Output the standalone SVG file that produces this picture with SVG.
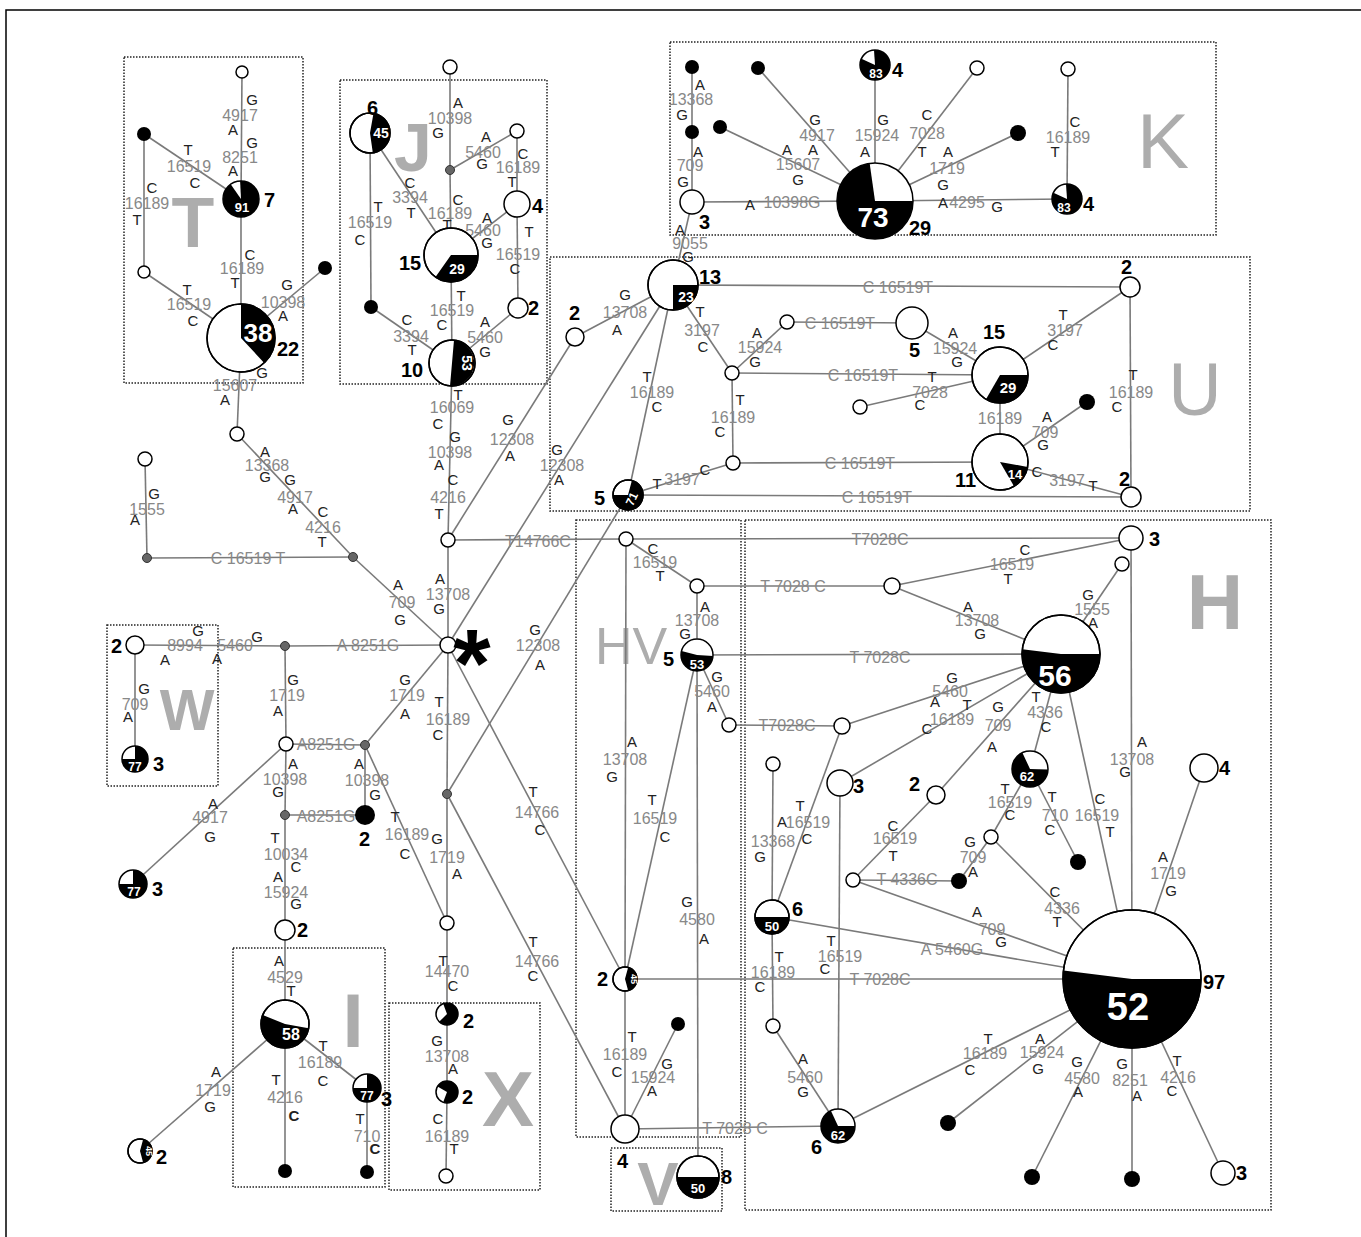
<svg xmlns="http://www.w3.org/2000/svg" width="1361" height="1237" viewBox="0 0 1361 1237">
<style>
text{font-family:"Liberation Sans",Arial,sans-serif}
.e line{stroke:#7a7a7a;stroke-width:1.6}
.w{fill:#fff;stroke:#000;stroke-width:1.5}
.o{fill:none;stroke:#000;stroke-width:1.5}
.b{fill:#000}
.g{fill:#666;stroke:#333;stroke-width:1}
.box{fill:none;stroke:#222;stroke-width:1.5;stroke-dasharray:1.5 1.5}
.l{font-size:15px;fill:#222;text-anchor:middle}
.m{font-size:16px;fill:#888;text-anchor:middle}
.i{font-size:16px;fill:#888;text-anchor:middle}
.c{font-size:20px;font-weight:bold;fill:#000}
.pt{font-weight:bold;fill:#fff;text-anchor:middle}
.big{fill:#adadad;text-anchor:middle}
</style>
<rect x="0" y="0" width="1361" height="1237" fill="#fff"/>
<path d="M6,1240 V10 H1365" fill="none" stroke="#000" stroke-width="1.5"/>
<g id="boxes">
<rect class="box" x="124" y="57" width="179" height="326"/>
<rect class="box" x="340" y="80" width="207" height="304"/>
<rect class="box" x="670" y="42" width="546" height="193"/>
<rect class="box" x="550" y="257" width="700" height="254"/>
<rect class="box" x="576" y="520" width="165" height="617"/>
<rect class="box" x="745" y="520" width="526" height="690"/>
<rect class="box" x="107" y="625" width="111" height="161"/>
<rect class="box" x="233" y="948" width="152" height="239"/>
<rect class="box" x="389" y="1003" width="151" height="187"/>
<rect class="box" x="611" y="1148" width="111" height="63"/>
</g>
<g id="group-letters">
<text class="big" x="193" y="247" font-size="70" font-weight="bold">T</text>
<text class="big" x="413" y="171" font-size="68" font-weight="bold">J</text>
<text class="big" x="1163" y="168" font-size="78">K</text>
<text class="big" x="1195" y="415" font-size="74">U</text>
<text class="big" x="1215" y="629" font-size="78" font-weight="bold">H</text>
<text class="big" x="631" y="664" font-size="52">HV</text>
<text class="big" x="187" y="730" font-size="58" font-weight="bold">W</text>
<text class="big" x="353" y="1047" font-size="76" font-weight="bold">I</text>
<text class="big" x="508" y="1126" font-size="78" font-weight="bold">X</text>
<text class="big" x="658" y="1205" font-size="62" font-weight="bold">V</text>
</g>
<g id="connectors" class="e">
<line x1="242" y1="72" x2="241" y2="199"/><line x1="144" y1="134" x2="241" y2="199"/><line x1="144" y1="134" x2="144" y2="272"/>
<line x1="241" y1="199" x2="241" y2="338"/><line x1="144" y1="272" x2="241" y2="338"/><line x1="241" y1="338" x2="325" y2="268"/>
<line x1="241" y1="338" x2="237" y2="434"/><line x1="237" y1="434" x2="353" y2="557"/><line x1="145" y1="459" x2="147" y2="558"/>
<line x1="147" y1="558" x2="353" y2="557"/><line x1="353" y1="557" x2="448" y2="645"/><line x1="135" y1="645" x2="285" y2="646"/>
<line x1="285" y1="646" x2="448" y2="645"/><line x1="135" y1="645" x2="135" y2="759"/><line x1="285" y1="646" x2="286" y2="744"/>
<line x1="286" y1="744" x2="365" y2="745"/><line x1="365" y1="745" x2="448" y2="645"/><line x1="286" y1="744" x2="285" y2="815"/>
<line x1="285" y1="815" x2="365" y2="815"/><line x1="365" y1="745" x2="365" y2="815"/><line x1="286" y1="744" x2="133" y2="884"/>
<line x1="285" y1="815" x2="285" y2="930"/><line x1="285" y1="930" x2="285" y2="1024"/><line x1="285" y1="1024" x2="140" y2="1151"/>
<line x1="285" y1="1024" x2="285" y2="1171"/><line x1="285" y1="1024" x2="367" y2="1088"/><line x1="367" y1="1088" x2="367" y2="1172"/>
<line x1="448" y1="645" x2="448" y2="540"/><line x1="448" y1="540" x2="452" y2="363"/><line x1="448" y1="540" x2="575" y2="337"/>
<line x1="448" y1="540" x2="626" y2="539"/><line x1="448" y1="645" x2="673" y2="285"/><line x1="447" y1="794" x2="628" y2="495"/>
<line x1="448" y1="645" x2="447" y2="794"/><line x1="448" y1="645" x2="625" y2="979"/><line x1="447" y1="794" x2="625" y2="1129"/>
<line x1="447" y1="794" x2="447" y2="923"/><line x1="365" y1="745" x2="447" y2="923"/><line x1="447" y1="923" x2="447" y2="1014"/>
<line x1="447" y1="1014" x2="447" y2="1092"/><line x1="447" y1="1092" x2="446" y2="1176"/>
<line x1="450" y1="67" x2="450" y2="170"/><line x1="450" y1="170" x2="517" y2="131"/><line x1="450" y1="170" x2="451" y2="255"/>
<line x1="517" y1="131" x2="517" y2="204"/><line x1="517" y1="204" x2="451" y2="255"/><line x1="517" y1="204" x2="518" y2="308"/>
<line x1="518" y1="308" x2="452" y2="363"/><line x1="370" y1="133" x2="451" y2="255"/><line x1="370" y1="133" x2="371" y2="307"/>
<line x1="371" y1="307" x2="452" y2="363"/><line x1="451" y1="255" x2="452" y2="363"/><line x1="575" y1="337" x2="673" y2="285"/>
<line x1="692" y1="67" x2="692" y2="132"/><line x1="692" y1="132" x2="692" y2="202"/><line x1="692" y1="202" x2="875" y2="201"/>
<line x1="692" y1="202" x2="673" y2="285"/><line x1="720" y1="127" x2="875" y2="201"/><line x1="758" y1="68" x2="875" y2="201"/>
<line x1="875" y1="65" x2="875" y2="201"/><line x1="977" y1="68" x2="875" y2="201"/><line x1="1018" y1="133" x2="875" y2="201"/>
<line x1="875" y1="201" x2="1067" y2="199"/><line x1="1068" y1="69" x2="1067" y2="199"/>
<line x1="673" y1="285" x2="1130" y2="287"/><line x1="673" y1="285" x2="732" y2="373"/><line x1="732" y1="373" x2="787" y2="322"/>
<line x1="787" y1="322" x2="912" y2="323"/><line x1="912" y1="323" x2="1000" y2="375"/><line x1="732" y1="373" x2="1000" y2="375"/>
<line x1="860" y1="407" x2="1000" y2="375"/><line x1="1000" y1="375" x2="1130" y2="287"/><line x1="732" y1="373" x2="733" y2="463"/>
<line x1="1000" y1="375" x2="1000" y2="462"/><line x1="733" y1="463" x2="1000" y2="462"/><line x1="1000" y1="462" x2="1087" y2="402"/>
<line x1="1000" y1="462" x2="1131" y2="497"/><line x1="1130" y1="287" x2="1131" y2="497"/><line x1="628" y1="495" x2="733" y2="463"/>
<line x1="628" y1="495" x2="1131" y2="497"/><line x1="628" y1="495" x2="673" y2="285"/>
<line x1="626" y1="539" x2="1131" y2="538"/><line x1="626" y1="539" x2="697" y2="586"/><line x1="697" y1="586" x2="697" y2="655"/>
<line x1="697" y1="586" x2="892" y2="586"/><line x1="892" y1="586" x2="1131" y2="538"/><line x1="892" y1="586" x2="1061" y2="654"/>
<line x1="1122" y1="564" x2="1061" y2="654"/><line x1="1131" y1="538" x2="1132" y2="979"/><line x1="697" y1="655" x2="1061" y2="654"/>
<line x1="697" y1="655" x2="729" y2="725"/><line x1="729" y1="725" x2="842" y2="726"/><line x1="842" y1="726" x2="1061" y2="654"/>
<line x1="840" y1="783" x2="1061" y2="654"/><line x1="936" y1="795" x2="1061" y2="654"/><line x1="1030" y1="769" x2="1061" y2="654"/>
<line x1="1061" y1="654" x2="1132" y2="979"/><line x1="842" y1="726" x2="772" y2="917"/><line x1="773" y1="764" x2="772" y2="917"/>
<line x1="840" y1="783" x2="838" y2="1126"/><line x1="772" y1="917" x2="1132" y2="979"/><line x1="772" y1="917" x2="773" y2="1026"/>
<line x1="773" y1="1026" x2="838" y2="1126"/><line x1="838" y1="1126" x2="1132" y2="979"/><line x1="625" y1="979" x2="1132" y2="979"/>
<line x1="625" y1="979" x2="625" y2="1129"/><line x1="625" y1="1129" x2="838" y2="1126"/><line x1="625" y1="1129" x2="678" y2="1024"/>
<line x1="626" y1="539" x2="625" y2="979"/><line x1="697" y1="655" x2="625" y2="979"/><line x1="697" y1="655" x2="698" y2="1177"/>
<line x1="1030" y1="769" x2="1078" y2="862"/><line x1="1030" y1="769" x2="991" y2="837"/><line x1="991" y1="837" x2="959" y2="881"/>
<line x1="853" y1="880" x2="959" y2="881"/><line x1="853" y1="880" x2="936" y2="795"/><line x1="853" y1="880" x2="1132" y2="979"/>
<line x1="991" y1="837" x2="1132" y2="979"/><line x1="1132" y1="979" x2="1204" y2="768"/><line x1="1132" y1="979" x2="948" y2="1123"/>
<line x1="1132" y1="979" x2="1032" y2="1177"/><line x1="1132" y1="979" x2="1132" y2="1179"/><line x1="1132" y1="979" x2="1223" y2="1173"/>
</g>
<g id="edge-labels">
<text class="l" x="252" y="105">G</text><text class="m" x="240" y="121">4917</text><text class="l" x="233" y="135">A</text>
<text class="l" x="252" y="148">G</text><text class="m" x="240" y="163">8251</text><text class="l" x="233" y="176">A</text>
<text class="l" x="188" y="155">T</text><text class="m" x="189" y="172">16519</text><text class="l" x="195" y="188">C</text>
<text class="l" x="152" y="193">C</text><text class="m" x="147" y="209">16189</text><text class="l" x="137" y="225">T</text>
<text class="l" x="250" y="260">C</text><text class="m" x="242" y="274">16189</text><text class="l" x="235" y="288">T</text>
<text class="l" x="187" y="295">T</text><text class="m" x="189" y="310">16519</text><text class="l" x="193" y="326">C</text>
<text class="l" x="287" y="290">G</text><text class="m" x="283" y="308">10398</text><text class="l" x="283" y="321">A</text>
<text class="l" x="262" y="378">G</text><text class="m" x="235" y="391">15607</text><text class="l" x="225" y="405">A</text>
<text class="l" x="265" y="457">A</text><text class="m" x="267" y="471">13368</text><text class="l" x="265" y="482">G</text>
<text class="l" x="290" y="485">G</text><text class="m" x="295" y="503">4917</text><text class="l" x="293" y="514">A</text>
<text class="l" x="323" y="517">C</text><text class="m" x="323" y="533">4216</text><text class="l" x="322" y="547">T</text>
<text class="l" x="154" y="499">G</text><text class="m" x="147" y="515">1555</text><text class="l" x="135" y="525">A</text>
<text class="i" x="248" y="564">C 16519 T</text>
<text class="l" x="398" y="590">A</text><text class="m" x="402" y="608">709</text><text class="l" x="400" y="625">G</text>
<text class="l" x="198" y="636">G</text><text class="m" x="185" y="651">8994</text><text class="l" x="165" y="665">A</text>
<text class="m" x="235" y="651">5460</text><text class="l" x="257" y="642">G</text><text class="l" x="217" y="664">A</text>
<text class="i" x="368" y="651">A 8251G</text>
<text class="l" x="144" y="694">G</text><text class="m" x="135" y="710">709</text><text class="l" x="128" y="722">A</text>
<text class="l" x="293" y="685">G</text><text class="m" x="287" y="701">1719</text><text class="l" x="278" y="716">A</text>
<text class="i" x="326" y="750">A8251G</text>
<text class="l" x="405" y="685">G</text><text class="m" x="407" y="701">1719</text><text class="l" x="405" y="719">A</text>
<text class="l" x="293" y="769">A</text><text class="m" x="285" y="785">10398</text><text class="l" x="278" y="797">G</text>
<text class="i" x="326" y="822">A8251G</text>
<text class="l" x="359" y="769">A</text><text class="m" x="367" y="786">10398</text><text class="l" x="375" y="800">G</text>
<text class="l" x="213" y="809">A</text><text class="m" x="210" y="823">4917</text><text class="l" x="210" y="842">G</text>
<text class="l" x="275" y="843">T</text><text class="m" x="286" y="860">10034</text><text class="l" x="296" y="872">C</text>
<text class="l" x="278" y="882">A</text><text class="m" x="286" y="898">15924</text><text class="l" x="296" y="909">G</text>
<text class="l" x="279" y="966">A</text><text class="m" x="285" y="983">4529</text><text class="l" x="291" y="996">T</text>
<text class="l" x="216" y="1077">A</text><text class="m" x="213" y="1096">1719</text><text class="l" x="210" y="1112">G</text>
<text class="l" x="276" y="1085">T</text><text class="m" x="285" y="1103">4216</text><text class="l" x="294" y="1121" font-weight="bold">C</text>
<text class="l" x="323" y="1051">T</text><text class="m" x="320" y="1068">16189</text><text class="l" x="323" y="1086">C</text>
<text class="l" x="360" y="1124">T</text><text class="m" x="367" y="1142">710</text><text class="l" x="375" y="1154" font-weight="bold">C</text>
<text class="l" x="440" y="584">A</text><text class="m" x="448" y="600">13708</text><text class="l" x="439" y="614">G</text>
<text class="l" x="458" y="400">T</text><text class="m" x="452" y="413">16069</text><text class="l" x="438" y="429">C</text>
<text class="l" x="455" y="442">G</text><text class="m" x="450" y="458">10398</text><text class="l" x="439" y="470">A</text>
<text class="l" x="453" y="485">C</text><text class="m" x="448" y="503">4216</text><text class="l" x="439" y="519">T</text>
<text class="l" x="508" y="425">G</text><text class="m" x="512" y="445">12308</text><text class="l" x="510" y="461">A</text>
<text class="i" x="538" y="547">T14766C</text>
<text class="l" x="557" y="455">G</text><text class="m" x="562" y="471">12308</text><text class="l" x="559" y="485">A</text>
<text class="l" x="535" y="635">G</text><text class="m" x="538" y="651">12308</text><text class="l" x="540" y="670">A</text>
<text class="l" x="439" y="707">T</text><text class="m" x="448" y="725">16189</text><text class="l" x="438" y="740">C</text>
<text class="l" x="533" y="797">T</text><text class="m" x="537" y="818">14766</text><text class="l" x="540" y="835">C</text>
<text class="l" x="533" y="947">T</text><text class="m" x="537" y="967">14766</text><text class="l" x="533" y="981">C</text>
<text class="l" x="437" y="844">G</text><text class="m" x="447" y="863">1719</text><text class="l" x="457" y="879">A</text>
<text class="l" x="395" y="822">T</text><text class="m" x="407" y="840">16189</text><text class="l" x="405" y="859">C</text>
<text class="l" x="443" y="966">T</text><text class="m" x="447" y="977">14470</text><text class="l" x="453" y="991">C</text>
<text class="l" x="437" y="1046">G</text><text class="m" x="447" y="1062">13708</text><text class="l" x="453" y="1074">A</text>
<text class="l" x="438" y="1124">C</text><text class="m" x="447" y="1142">16189</text><text class="l" x="454" y="1154">T</text>
<text class="l" x="458" y="108">A</text><text class="m" x="450" y="124">10398</text><text class="l" x="438" y="138">G</text>
<text class="l" x="486" y="142">A</text><text class="m" x="483" y="158">5460</text><text class="l" x="482" y="169">G</text>
<text class="l" x="458" y="205">C</text><text class="m" x="450" y="219">16189</text><text class="l" x="447" y="230">T</text>
<text class="l" x="523" y="159">C</text><text class="m" x="518" y="173">16189</text><text class="l" x="512" y="187">T</text>
<text class="l" x="487" y="223">A</text><text class="m" x="483" y="236">5460</text><text class="l" x="487" y="248">G</text>
<text class="l" x="529" y="237">T</text><text class="m" x="518" y="260">16519</text><text class="l" x="515" y="274">C</text>
<text class="l" x="485" y="327">A</text><text class="m" x="485" y="343">5460</text><text class="l" x="485" y="357">G</text>
<text class="l" x="410" y="188">C</text><text class="m" x="410" y="203">3394</text><text class="l" x="411" y="218">T</text>
<text class="l" x="378" y="212">T</text><text class="m" x="370" y="228">16519</text><text class="l" x="360" y="245">C</text>
<text class="l" x="407" y="325">C</text><text class="m" x="411" y="342">3394</text><text class="l" x="412" y="355">T</text>
<text class="l" x="461" y="301">T</text><text class="m" x="452" y="316">16519</text><text class="l" x="442" y="330">C</text>
<text class="l" x="625" y="300">G</text><text class="m" x="625" y="318">13708</text><text class="l" x="617" y="335">A</text>
<text class="l" x="700" y="90">A</text><text class="m" x="691" y="105">13368</text><text class="l" x="682" y="120">G</text>
<text class="l" x="698" y="157">A</text><text class="m" x="690" y="171">709</text><text class="l" x="683" y="187">G</text>
<text class="l" x="750" y="210">A</text><text class="i" x="792" y="208">10398G</text>
<text class="l" x="680" y="235">A</text><text class="m" x="690" y="249">9055</text><text class="l" x="688" y="262">G</text>
<text class="l" x="787" y="155">A</text><text class="m" x="798" y="170">15607</text><text class="l" x="798" y="185">G</text>
<text class="l" x="815" y="125">G</text><text class="m" x="817" y="141">4917</text><text class="l" x="813" y="155">A</text>
<text class="l" x="883" y="125">G</text><text class="m" x="877" y="141">15924</text><text class="l" x="865" y="157">A</text>
<text class="l" x="927" y="120">C</text><text class="m" x="927" y="139">7028</text><text class="l" x="922" y="157">T</text>
<text class="l" x="948" y="157">A</text><text class="m" x="947" y="174">1719</text><text class="l" x="943" y="190">G</text>
<text class="l" x="943" y="208">A</text><text class="m" x="967" y="208">4295</text><text class="l" x="997" y="212">G</text>
<text class="l" x="1075" y="127">C</text><text class="m" x="1068" y="143">16189</text><text class="l" x="1055" y="157">T</text>
<text class="i" x="898" y="293">C 16519T</text>
<text class="l" x="700" y="317">T</text><text class="m" x="702" y="336">3197</text><text class="l" x="703" y="352">C</text>
<text class="l" x="757" y="338">A</text><text class="m" x="760" y="353">15924</text><text class="l" x="755" y="367">G</text>
<text class="i" x="840" y="329">C 16519T</text>
<text class="l" x="953" y="338">A</text><text class="m" x="955" y="354">15924</text><text class="l" x="957" y="367">G</text>
<text class="i" x="863" y="381">C 16519T</text>
<text class="l" x="932" y="382">T</text><text class="m" x="930" y="398">7028</text><text class="l" x="920" y="410">C</text>
<text class="l" x="1063" y="320">T</text><text class="m" x="1065" y="336">3197</text><text class="l" x="1053" y="350">C</text>
<text class="l" x="740" y="405">T</text><text class="m" x="733" y="423">16189</text><text class="l" x="720" y="437">C</text>
<text class="m" x="1000" y="424">16189</text>
<text class="i" x="860" y="469">C 16519T</text>
<text class="l" x="1047" y="422">A</text><text class="m" x="1045" y="438">709</text><text class="l" x="1043" y="450">G</text>
<text class="l" x="1037" y="477">C</text><text class="m" x="1067" y="486">3197</text><text class="l" x="1093" y="491">T</text>
<text class="l" x="1133" y="380">T</text><text class="m" x="1131" y="398">16189</text><text class="l" x="1117" y="412">C</text>
<text class="l" x="657" y="489">T</text><text class="m" x="682" y="485">3197</text><text class="l" x="705" y="475">C</text>
<text class="i" x="877" y="503">C 16519T</text>
<text class="l" x="647" y="382">T</text><text class="m" x="652" y="398">16189</text><text class="l" x="657" y="412">C</text>
<text class="i" x="880" y="545">T7028C</text>
<text class="l" x="653" y="554">C</text><text class="m" x="655" y="568">16519</text><text class="l" x="660" y="581">T</text>
<text class="l" x="705" y="612">A</text><text class="m" x="697" y="626">13708</text><text class="l" x="685" y="639">G</text>
<text class="i" x="793" y="592">T 7028 C</text>
<text class="l" x="1025" y="555">C</text><text class="m" x="1012" y="570">16519</text><text class="l" x="1008" y="584">T</text>
<text class="l" x="968" y="612">A</text><text class="m" x="977" y="626">13708</text><text class="l" x="980" y="639">G</text>
<text class="l" x="1088" y="600">G</text><text class="m" x="1092" y="615">1555</text><text class="l" x="1093" y="628">A</text>
<text class="l" x="1142" y="747">A</text><text class="m" x="1132" y="765">13708</text><text class="l" x="1125" y="777">G</text>
<text class="i" x="880" y="663">T 7028C</text>
<text class="l" x="717" y="682">G</text><text class="m" x="712" y="697">5460</text><text class="l" x="712" y="712">A</text>
<text class="i" x="787" y="731">T7028C</text>
<text class="l" x="952" y="683">G</text><text class="m" x="950" y="697">5460</text><text class="l" x="935" y="707">A</text>
<text class="l" x="967" y="710">T</text><text class="m" x="952" y="725">16189</text><text class="l" x="927" y="734">C</text>
<text class="l" x="998" y="712">G</text><text class="m" x="998" y="731">709</text><text class="l" x="992" y="752">A</text>
<text class="l" x="1036" y="702">T</text><text class="m" x="1045" y="718">4336</text><text class="l" x="1046" y="732">C</text>
<text class="l" x="1100" y="804">C</text><text class="m" x="1097" y="821">16519</text><text class="l" x="1110" y="837">T</text>
<text class="l" x="800" y="811">T</text><text class="m" x="808" y="828">16519</text><text class="l" x="807" y="844">C</text>
<text class="l" x="782" y="827">A</text><text class="m" x="773" y="847">13368</text><text class="l" x="760" y="862">G</text>
<text class="l" x="831" y="946">T</text><text class="m" x="840" y="962">16519</text><text class="l" x="825" y="974">C</text>
<text class="i" x="952" y="955">A 5460G</text>
<text class="l" x="779" y="962">T</text><text class="m" x="773" y="978">16189</text><text class="l" x="760" y="992">C</text>
<text class="l" x="803" y="1064">A</text><text class="m" x="805" y="1083">5460</text><text class="l" x="803" y="1097">G</text>
<text class="l" x="988" y="1044">T</text><text class="m" x="985" y="1059">16189</text><text class="l" x="970" y="1075">C</text>
<text class="i" x="880" y="985">T 7028C</text>
<text class="l" x="632" y="1042">T</text><text class="m" x="625" y="1060">16189</text><text class="l" x="617" y="1077">C</text>
<text class="i" x="735" y="1134">T 7028 C</text>
<text class="l" x="667" y="1069">G</text><text class="m" x="653" y="1083">15924</text><text class="l" x="652" y="1096">A</text>
<text class="l" x="632" y="747">A</text><text class="m" x="625" y="765">13708</text><text class="l" x="612" y="782">G</text>
<text class="l" x="652" y="805">T</text><text class="m" x="655" y="824">16519</text><text class="l" x="665" y="842">C</text>
<text class="l" x="687" y="907">G</text><text class="m" x="697" y="925">4580</text><text class="l" x="704" y="944">A</text>
<text class="l" x="1052" y="802">T</text><text class="m" x="1055" y="821">710</text><text class="l" x="1050" y="835">C</text>
<text class="l" x="1005" y="794">T</text><text class="m" x="1010" y="808">16519</text><text class="l" x="1010" y="820">C</text>
<text class="l" x="970" y="847">G</text><text class="m" x="973" y="863">709</text><text class="l" x="973" y="877">A</text>
<text class="i" x="907" y="885">T 4336C</text>
<text class="l" x="893" y="831">C</text><text class="m" x="895" y="844">16519</text><text class="l" x="893" y="861">T</text>
<text class="l" x="977" y="917">A</text><text class="m" x="992" y="935">709</text><text class="l" x="1001" y="947">G</text>
<text class="l" x="1055" y="897">C</text><text class="m" x="1062" y="914">4336</text><text class="l" x="1057" y="927">T</text>
<text class="l" x="1163" y="862">A</text><text class="m" x="1168" y="879">1719</text><text class="l" x="1171" y="896">G</text>
<text class="l" x="1040" y="1044">A</text><text class="m" x="1042" y="1058">15924</text><text class="l" x="1038" y="1074">G</text>
<text class="l" x="1077" y="1067">G</text><text class="m" x="1082" y="1084">4580</text><text class="l" x="1078" y="1097">A</text>
<text class="l" x="1122" y="1069">G</text><text class="m" x="1130" y="1086">8251</text><text class="l" x="1137" y="1101">A</text>
<text class="l" x="1177" y="1066">T</text><text class="m" x="1178" y="1083">4216</text><text class="l" x="1172" y="1096">C</text>
</g>
<g id="nodes">
<g id="n-t1"><circle class="w" cx="242" cy="72" r="6"/></g>
<g id="n-t2"><circle class="b" cx="144" cy="134" r="7"/></g>
<g id="p-91"><circle class="b" cx="241" cy="199" r="18"/><path fill="#fff" d="M241,199 L230.7,184.3 A18,18 0 0 1 240.1,181 Z"/><circle class="o" cx="241" cy="199" r="18"/><text class="pt" x="242" y="212" font-size="13">91</text><text class="c" x="264" y="207">7</text></g>
<g id="n-t3"><circle class="w" cx="144" cy="272" r="6"/></g>
<g id="p-38"><circle class="w" cx="241" cy="338" r="34"/><path class="b" d="M241,338 L241,304 A34,34 0 0 1 264.2,362.9 Z"/><circle class="o" cx="241" cy="338" r="34"/><text class="pt" x="258" y="342" font-size="26">38</text><text class="c" x="277" y="356">22</text></g>
<g id="n-t4"><circle class="b" cx="325" cy="268" r="7"/></g>
<g id="n-a"><circle class="w" cx="237" cy="434" r="7"/></g>
<g id="n-b"><circle class="w" cx="145" cy="459" r="7"/></g>
<g id="g-1"><circle class="g" cx="147" cy="558" r="4.5"/></g>
<g id="g-2"><circle class="g" cx="353" cy="557" r="4.5"/></g>
<g id="n-w2"><circle class="w" cx="135" cy="645" r="9"/><text class="c" x="111" y="653">2</text></g>
<g id="p-w77"><circle class="b" cx="135" cy="759" r="13"/><path fill="#fff" d="M135,759 L122,759 A13,13 0 0 1 135,746 Z"/><circle class="o" cx="135" cy="759" r="13"/><text class="pt" x="135" y="771" font-size="12">77</text><text class="c" x="153" y="771">3</text></g>
<g id="g-3"><circle class="g" cx="285" cy="646" r="4.5"/></g>
<g id="n-d"><circle class="w" cx="286" cy="744" r="7"/></g>
<g id="g-4"><circle class="g" cx="365" cy="745" r="4.5"/></g>
<g id="g-5"><circle class="g" cx="285" cy="815" r="4.5"/></g>
<g id="n-e"><circle class="b" cx="365" cy="815" r="10"/><text class="c" x="359" y="846">2</text></g>
<g id="p-l77"><circle class="b" cx="133" cy="884" r="14"/><path fill="#fff" d="M133,884 L119,884 A14,14 0 0 1 133,870 Z"/><circle class="o" cx="133" cy="884" r="14"/><text class="pt" x="134" y="896" font-size="12">77</text><text class="c" x="152" y="896">3</text></g>
<g id="n-f"><circle class="w" cx="285" cy="930" r="10"/><text class="c" x="297" y="937">2</text></g>
<g id="p-58"><circle class="w" cx="285" cy="1024" r="24"/><path class="b" d="M285,1024 L308.6,1028.2 A24,24 0 1 1 262.7,1015 Z"/><circle class="o" cx="285" cy="1024" r="24"/><text class="pt" x="291" y="1040" font-size="16">58</text></g>
<g id="p-45a"><circle class="w" cx="140" cy="1151" r="12"/><path class="b" d="M140,1151 L143.1,1139.4 A12,12 0 0 1 143.1,1162.6 Z"/><circle class="o" cx="140" cy="1151" r="12"/><text class="pt" x="146" y="1151" font-size="9" transform="rotate(90 146 1151)">45</text><text class="c" x="156" y="1164">2</text></g>
<g id="n-g"><circle class="b" cx="285" cy="1171" r="7"/></g>
<g id="p-i77"><circle class="b" cx="367" cy="1088" r="14"/><path fill="#fff" d="M367,1088 L353,1088 A14,14 0 0 1 367,1074 Z"/><circle class="o" cx="367" cy="1088" r="14"/><text class="pt" x="367" y="1100" font-size="12">77</text><text class="c" x="381" y="1106">3</text></g>
<g id="n-h"><circle class="b" cx="367" cy="1172" r="7"/></g>
<g id="n-center"><circle class="w" cx="448" cy="645" r="8"/><text x="472" y="696" font-size="96" font-weight="bold" text-anchor="middle" fill="#000">*</text></g>
<g id="n-i"><circle class="w" cx="448" cy="540" r="7"/></g>
<g id="g-6"><circle class="g" cx="447" cy="794" r="4.5"/></g>
<g id="n-j"><circle class="w" cx="447" cy="923" r="7"/></g>
<g id="p-x1"><circle class="b" cx="447" cy="1014" r="11"/><path fill="#fff" d="M447,1014 L439.2,1021.8 A11,11 0 0 1 443.2,1003.7 Z"/><circle class="o" cx="447" cy="1014" r="11"/><text class="c" x="463" y="1028">2</text></g>
<g id="p-x2"><circle class="b" cx="447" cy="1092" r="11"/><path fill="#fff" d="M447,1092 L443.2,1102.3 A11,11 0 0 1 437.5,1086.5 Z"/><circle class="o" cx="447" cy="1092" r="11"/><text class="c" x="462" y="1104">2</text></g>
<g id="n-k"><circle class="w" cx="446" cy="1176" r="7"/></g>
<g id="n-l"><circle class="w" cx="450" cy="67" r="7"/></g>
<g id="g-7"><circle class="g" cx="450" cy="170" r="4.5"/></g>
<g id="n-m"><circle class="w" cx="517" cy="131" r="7"/></g>
<g id="n-n"><circle class="w" cx="517" cy="204" r="13"/><text class="c" x="532" y="213">4</text></g>
<g id="p-j29"><circle class="w" cx="451" cy="255" r="27"/><path class="b" d="M451,255 L478,255 A27,27 0 0 1 435.5,277.1 Z"/><circle class="o" cx="451" cy="255" r="27"/><text class="pt" x="457" y="274" font-size="14">29</text><text class="c" x="399" y="270">15</text></g>
<g id="p-j45"><circle class="w" cx="370" cy="133" r="20"/><path class="b" d="M370,133 L373.5,113.3 A20,20 0 0 1 372.8,152.8 Z"/><circle class="o" cx="370" cy="133" r="20"/><text class="pt" x="381" y="138" font-size="14">45</text><text class="c" x="367" y="115">6</text></g>
<g id="n-o"><circle class="b" cx="371" cy="307" r="7"/></g>
<g id="n-p"><circle class="w" cx="518" cy="308" r="10"/><text class="c" x="528" y="315">2</text></g>
<g id="p-j53"><circle class="w" cx="452" cy="363" r="23"/><path class="b" d="M452,363 L454,340.1 A23,23 0 0 1 450,385.9 Z"/><circle class="o" cx="452" cy="363" r="23"/><text class="pt" x="462" y="363" font-size="14" transform="rotate(90 462 363)">53</text><text class="c" x="401" y="377">10</text></g>
<g id="n-q"><circle class="w" cx="575" cy="337" r="9"/><text class="c" x="569" y="320">2</text></g>
<g id="n-r"><circle class="b" cx="692" cy="67" r="7"/></g>
<g id="n-s"><circle class="b" cx="692" cy="132" r="7"/></g>
<g id="n-tk"><circle class="w" cx="692" cy="202" r="12"/><text class="c" x="699" y="229">3</text></g>
<g id="n-u"><circle class="b" cx="758" cy="68" r="7"/></g>
<g id="n-v"><circle class="b" cx="720" cy="127" r="7"/></g>
<g id="p-k83a"><circle class="b" cx="875" cy="65" r="15"/><path fill="#fff" d="M875,65 L861.4,58.7 A15,15 0 0 1 874,50 Z"/><circle class="o" cx="875" cy="65" r="15"/><text class="pt" x="876" y="78" font-size="12">83</text><text class="c" x="892" y="77">4</text></g>
<g id="n-wk"><circle class="w" cx="977" cy="68" r="7"/></g>
<g id="n-x"><circle class="b" cx="1018" cy="133" r="8"/></g>
<g id="p-73"><circle class="b" cx="875" cy="201" r="38"/><path fill="#fff" d="M875,201 L869.7,163.4 A38,38 0 0 1 913,201 Z"/><circle class="o" cx="875" cy="201" r="38"/><text class="pt" x="873" y="227" font-size="28">73</text><text class="c" x="909" y="235">29</text></g>
<g id="n-y"><circle class="w" cx="1068" cy="69" r="7"/></g>
<g id="p-k83b"><circle class="b" cx="1067" cy="199" r="15"/><path fill="#fff" d="M1067,199 L1053.4,192.7 A15,15 0 0 1 1066,184 Z"/><circle class="o" cx="1067" cy="199" r="15"/><text class="pt" x="1064" y="212" font-size="12">83</text><text class="c" x="1083" y="211">4</text></g>
<g id="p-13"><circle class="w" cx="673" cy="285" r="25"/><path class="b" d="M673,285 L698,285 A25,25 0 0 1 673,310 Z"/><circle class="o" cx="673" cy="285" r="25"/><text class="pt" x="686" y="302" font-size="14">23</text><text class="c" x="699" y="284">13</text></g>
<g id="n-z"><circle class="w" cx="732" cy="373" r="7"/></g>
<g id="n-aa"><circle class="w" cx="787" cy="322" r="7"/></g>
<g id="n-ab"><circle class="w" cx="912" cy="323" r="16"/><text class="c" x="909" y="357">5</text></g>
<g id="p-u29"><circle class="w" cx="1000" cy="375" r="28"/><path class="b" d="M1000,375 L1028,375 A28,28 0 0 1 986,399.2 Z"/><circle class="o" cx="1000" cy="375" r="28"/><text class="pt" x="1008" y="393" font-size="15">29</text><text class="c" x="983" y="339">15</text></g>
<g id="n-ac"><circle class="w" cx="860" cy="407" r="7"/></g>
<g id="n-ad"><circle class="w" cx="1130" cy="287" r="10"/><text class="c" x="1121" y="274">2</text></g>
<g id="n-ae"><circle class="w" cx="733" cy="463" r="7"/></g>
<g id="p-14"><circle class="w" cx="1000" cy="462" r="28"/><path class="b" d="M1000,462 L1027.6,466.9 A28,28 0 0 1 1014,486.2 Z"/><circle class="o" cx="1000" cy="462" r="28"/><text class="pt" x="1015" y="479" font-size="13">14</text><text class="c" x="955" y="487">11</text></g>
<g id="n-af"><circle class="b" cx="1087" cy="402" r="8"/></g>
<g id="n-ag"><circle class="w" cx="1131" cy="497" r="10"/><text class="c" x="1119" y="486">2</text></g>
<g id="p-71"><circle class="w" cx="628" cy="495" r="15"/><path class="b" d="M628,495 L631.9,480.5 A15,15 0 1 1 613,495 Z"/><circle class="o" cx="628" cy="495" r="15"/><text class="pt" x="632" y="503" font-size="12" transform="rotate(-65 632 499)">71</text><text class="c" x="594" y="505">5</text></g>
<g id="n-ah"><circle class="w" cx="626" cy="539" r="7"/></g>
<g id="n-ai"><circle class="w" cx="697" cy="586" r="7"/></g>
<g id="p-h53"><circle class="b" cx="697" cy="655" r="16"/><path fill="#fff" d="M697,655 L681.5,650.9 A16,16 0 0 1 713,656.1 Z"/><circle class="o" cx="697" cy="655" r="16"/><text class="pt" x="697" y="669" font-size="13">53</text><text class="c" x="663" y="666">5</text></g>
<g id="n-aj"><circle class="w" cx="729" cy="725" r="7"/></g>
<g id="p-h45"><circle class="w" cx="625" cy="979" r="12"/><path class="b" d="M625,979 L628.1,967.4 A12,12 0 0 1 628.1,990.6 Z"/><circle class="o" cx="625" cy="979" r="12"/><text class="pt" x="631" y="979" font-size="9" transform="rotate(90 631 979)">45</text><text class="c" x="597" y="986">2</text></g>
<g id="n-ak"><circle class="w" cx="625" cy="1129" r="14"/><text class="c" x="617" y="1168">4</text></g>
<g id="n-al"><circle class="b" cx="678" cy="1024" r="7"/></g>
<g id="p-v50"><circle class="w" cx="698" cy="1177" r="21"/><path class="b" d="M677,1177 A21,21 0 0 0 719,1177 Z"/><circle class="o" cx="698" cy="1177" r="21"/><text class="pt" x="698" y="1193" font-size="13">50</text><text class="c" x="721" y="1184">8</text></g>
<g id="n-am"><circle class="w" cx="892" cy="586" r="8"/></g>
<g id="n-an"><circle class="w" cx="1131" cy="538" r="12"/><text class="c" x="1149" y="546">3</text></g>
<g id="n-ao"><circle class="w" cx="1122" cy="564" r="7"/></g>
<g id="p-56"><circle class="w" cx="1061" cy="654" r="39"/><path class="b" d="M1061,654 L1100,654 A39,39 0 1 1 1022.3,649.2 Z"/><circle class="o" cx="1061" cy="654" r="39"/><text class="pt" x="1055" y="686" font-size="30">56</text></g>
<g id="n-ap"><circle class="w" cx="842" cy="726" r="8"/></g>
<g id="n-aq"><circle class="w" cx="773" cy="764" r="7"/></g>
<g id="n-ar"><circle class="w" cx="840" cy="783" r="13"/><text class="c" x="853" y="793">3</text></g>
<g id="n-as"><circle class="w" cx="936" cy="795" r="9"/><text class="c" x="909" y="791">2</text></g>
<g id="p-62a"><circle class="b" cx="1030" cy="769" r="18"/><path fill="#fff" d="M1030,769 L1022.4,752.7 A18,18 0 0 1 1048,769.6 Z"/><circle class="o" cx="1030" cy="769" r="18"/><text class="pt" x="1027" y="781" font-size="13">62</text></g>
<g id="n-at"><circle class="b" cx="1078" cy="862" r="8"/></g>
<g id="n-au"><circle class="w" cx="991" cy="837" r="7"/></g>
<g id="n-av"><circle class="b" cx="959" cy="881" r="8"/></g>
<g id="n-aw"><circle class="w" cx="853" cy="880" r="7"/></g>
<g id="p-h50"><circle class="w" cx="772" cy="917" r="17"/><path class="b" d="M755,917 A17,17 0 0 0 789,917 Z"/><circle class="o" cx="772" cy="917" r="17"/><text class="pt" x="772" y="931" font-size="13">50</text><text class="c" x="792" y="916">6</text></g>
<g id="n-ax"><circle class="w" cx="773" cy="1026" r="7"/></g>
<g id="p-62b"><circle class="b" cx="838" cy="1126" r="17"/><path fill="#fff" d="M838,1126 L830.8,1110.6 A17,17 0 0 1 855,1126 Z"/><circle class="o" cx="838" cy="1126" r="17"/><text class="pt" x="838" y="1140" font-size="13">62</text><text class="c" x="811" y="1154">6</text></g>
<g id="p-52"><circle class="w" cx="1132" cy="979" r="69"/><path class="b" d="M1132,979 L1201,979 A69,69 0 1 1 1063.5,970.6 Z"/><circle class="o" cx="1132" cy="979" r="69"/><text class="pt" x="1128" y="1020" font-size="38">52</text><text class="c" x="1203" y="989">97</text></g>
<g id="n-ay"><circle class="w" cx="1204" cy="768" r="14"/><text class="c" x="1219" y="775">4</text></g>
<g id="n-az"><circle class="b" cx="948" cy="1123" r="8"/></g>
<g id="n-ba"><circle class="b" cx="1032" cy="1177" r="8"/></g>
<g id="n-bb"><circle class="b" cx="1132" cy="1179" r="8"/></g>
<g id="n-bc"><circle class="w" cx="1223" cy="1173" r="12"/><text class="c" x="1236" y="1180">3</text></g>
</g>
</svg>
